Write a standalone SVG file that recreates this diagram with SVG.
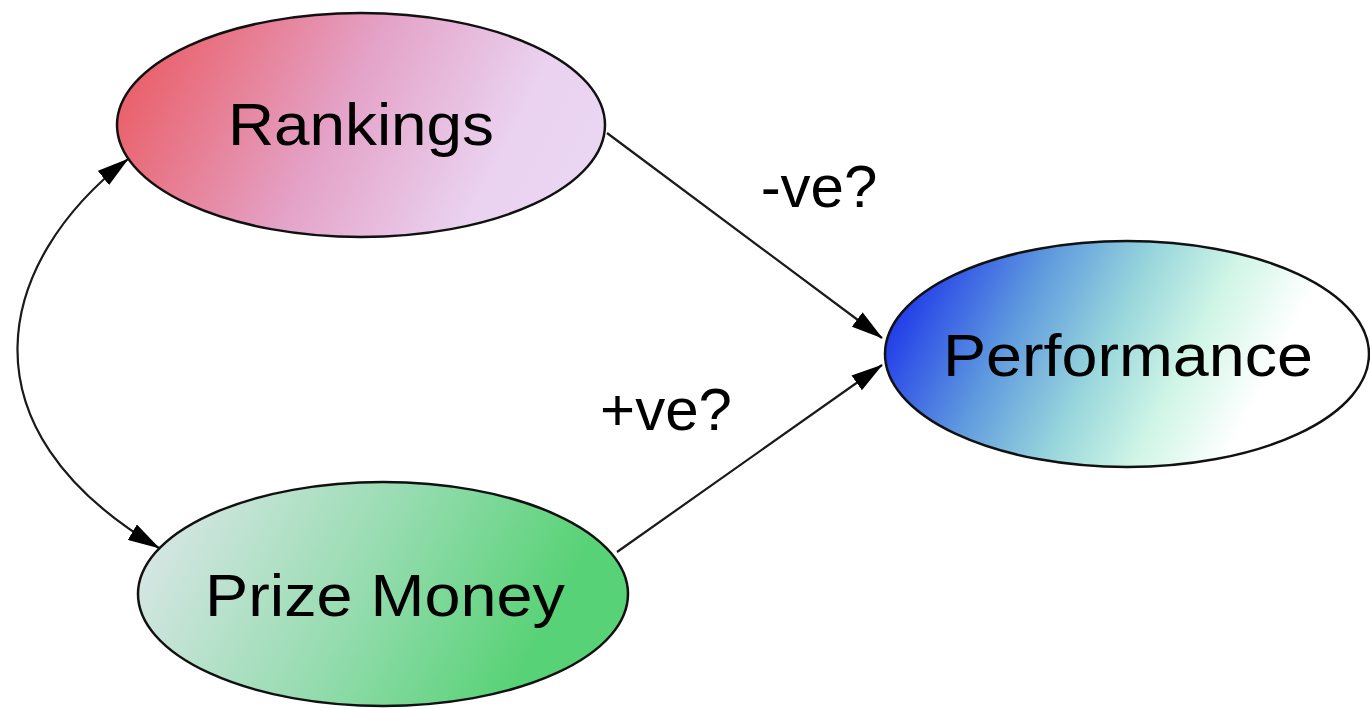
<svg xmlns="http://www.w3.org/2000/svg" width="1370" height="709" viewBox="0 0 1370 709">
  <style>
    .node { stroke: #111; stroke-width: 2.5; }
    .label { font-family: "Liberation Sans", Arial, sans-serif; font-size: 60px; fill: #000; text-anchor: middle; }
    .edge { fill: none; stroke: #1a1a1a; stroke-width: 2.2; }
  </style>
  <defs>
    <linearGradient id="gRank" x1="0" y1="0.38" x2="1" y2="0.62">
      <stop offset="0" stop-color="#ea5f68"/>
      <stop offset="0.45" stop-color="#e4a3c8"/>
      <stop offset="0.8" stop-color="#ead2f0"/>
      <stop offset="1" stop-color="#ead6f3"/>
    </linearGradient>
    <linearGradient id="gPerf" x1="0" y1="0.38" x2="1" y2="0.62">
      <stop offset="0" stop-color="#1f38ea"/>
      <stop offset="0.25" stop-color="#5f9ade"/>
      <stop offset="0.45" stop-color="#98d6dc"/>
      <stop offset="0.62" stop-color="#cff5e6"/>
      <stop offset="0.8" stop-color="#ffffff"/>
      <stop offset="1" stop-color="#ffffff"/>
    </linearGradient>
    <linearGradient id="gPrize" x1="0" y1="0.38" x2="1" y2="0.62">
      <stop offset="0" stop-color="#d6e6e4"/>
      <stop offset="0.45" stop-color="#96dcb0"/>
      <stop offset="0.85" stop-color="#58d276"/>
      <stop offset="1" stop-color="#58d276"/>
    </linearGradient>
    <marker id="arrow" markerUnits="userSpaceOnUse" markerWidth="32" markerHeight="18" refX="31" refY="9" orient="auto-start-reverse">
      <path d="M0,0 L32,9 L0,18 Z" fill="#000"/>
    </marker>
  </defs>

  <g id="connectors">
    <path class="edge" d="M607,133 L882,338" marker-end="url(#arrow)"/>
    <path class="edge" d="M617,552 L882,365" marker-end="url(#arrow)"/>
    <path class="edge" d="M128,159 C-5,262 -44,428 159,548" marker-start="url(#arrow)" marker-end="url(#arrow)"/>
    <text class="label" x="819" y="207">-ve?</text>
    <text class="label" x="666" y="430">+ve?</text>
  </g>

  <g id="rankings">
    <ellipse class="node" cx="361" cy="125" rx="244" ry="112" fill="url(#gRank)"/>
    <text class="label" x="361" y="145" textLength="266" lengthAdjust="spacingAndGlyphs">Rankings</text>
  </g>

  <g id="performance">
    <ellipse class="node" cx="1127" cy="354" rx="242" ry="113" fill="url(#gPerf)"/>
    <text class="label" x="1128" y="376" textLength="370" lengthAdjust="spacingAndGlyphs">Performance</text>
  </g>

  <g id="prize-money">
    <ellipse class="node" cx="383" cy="594" rx="245" ry="112" fill="url(#gPrize)"/>
    <text class="label" x="385" y="616" textLength="360" lengthAdjust="spacingAndGlyphs">Prize Money</text>
  </g>
</svg>
